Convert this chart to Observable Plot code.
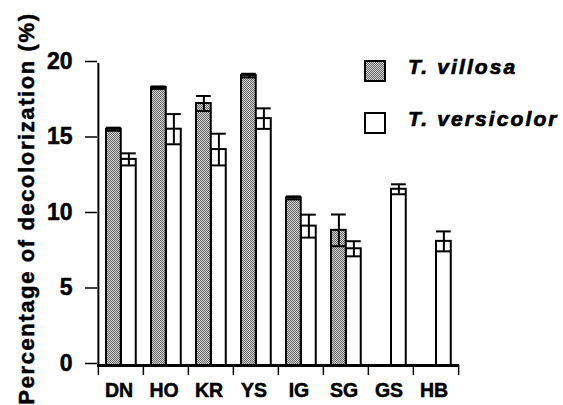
<!DOCTYPE html>
<html>
<head>
<meta charset="utf-8">
<script src="https://cdn.jsdelivr.net/npm/d3@7"></script>
<script src="https://cdn.jsdelivr.net/npm/@observablehq/plot@0.6"></script>
<style>
  html, body { margin: 0; padding: 0; background: #fff; }
  #wrap { position: relative; width: 563px; height: 405px; overflow: hidden; }
  #chart svg text { font-family: Arial, "Liberation Sans", sans-serif !important; font-weight: bold !important; fill: #000; stroke: #000; stroke-width: 0.5px; }
  #legend { position: absolute; left: 364px; top: 60px; font-family: Arial, "Liberation Sans", sans-serif;
            font-weight: bold; font-style: italic; font-size: 21px; letter-spacing: 2.1px; color: #000;
            -webkit-text-stroke: 0.7px #000; }
  .item { position: absolute; left: 0; white-space: nowrap; }
  .sw { position: absolute; left: 0; top: 0; width: 22px; height: 22px; box-sizing: border-box; border: 2px solid #000; background: #fff; }
  .sw.pat { background-color: #d4d4d4;
            background-image: repeating-conic-gradient(#666 0 25%, #d4d4d4 0 50%);
            background-size: 2px 2px; }
  .lab { position: absolute; left: 44px; top: -5px; line-height: 24px; }
</style>
</head>
<body>
<div id="wrap">
  <div id="chart"></div>
  <div id="legend"></div>
</div>
<script>
const categories = ["DN", "HO", "KR", "YS", "IG", "SG", "GS", "HB"];
const villosa    = [15.65, 18.4, 17.35, 19.2, 11.1, 8.95, null, null];
const villosaSD  = [0.1, 0.08, 0.5, 0.12, 0.1, 1.05, null, null];
const versicolor   = [13.65, 15.65, 14.3, 16.35, 9.23, 7.73, 11.67, 8.22];
const versicolorSD = [0.4, 1.0, 1.05, 0.68, 0.76, 0.5, 0.33, 0.66];
const seriesNames = ["T. villosa", "T. versicolor"];
const yTicks = [0, 5, 10, 15, 20];
const yLabel = "Percentage of decolorization (%)";

const W = 563, H = 405, mL = 97, mR = 104, mT = 63, mB = 40;
const step = (W - mL - mR) / categories.length;

const rowsV = categories.map((c, i) => ({cat: c, v: villosa[i], sd: villosaSD[i]})).filter(d => d.v != null);
const rowsC = categories.map((c, i) => ({cat: c, v: versicolor[i], sd: versicolorSD[i]})).filter(d => d.v != null);

// bar placement within each category band (px insets)
const vL = 8, vR = step - 23, cL = 23, cR = step - 38;
const vC = (vL + (step - vR)) / 2 - step / 2;
const cC = (cL + (step - cR)) / 2 - step / 2;

const chart = Plot.plot({
  width: W, height: H,
  marginLeft: mL, marginRight: mR, marginTop: mT, marginBottom: mB,
  style: {fontFamily: "Arial, Liberation Sans, sans-serif", background: "#fff", color: "#000", overflow: "visible"},
  x: {type: "band", domain: categories, padding: 0, axis: null},
  y: {domain: [0, 20], axis: null},
  marks: [
    Plot.barY(rowsV, {x: "cat", y: "v", fill: "url(#pat)", stroke: "#000", strokeWidth: 2, insetLeft: vL, insetRight: vR}),
    Plot.barY(rowsC, {x: "cat", y: "v", fill: "#fff", stroke: "#000", strokeWidth: 2, insetLeft: cL, insetRight: cR}),
    Plot.ruleX(rowsV, {x: "cat", y1: d => d.v - d.sd, y2: d => d.v + d.sd, dx: vC, strokeWidth: 2}),
    Plot.tickY(rowsV, {x: "cat", y: d => d.v + d.sd, insetLeft: vL, insetRight: vR, strokeWidth: 2}),
    Plot.tickY(rowsV, {x: "cat", y: d => d.v - d.sd, insetLeft: vL, insetRight: vR, strokeWidth: 2}),
    Plot.ruleX(rowsC, {x: "cat", y1: d => d.v - d.sd, y2: d => d.v + d.sd, dx: cC, strokeWidth: 2}),
    Plot.tickY(rowsC, {x: "cat", y: d => d.v + d.sd, insetLeft: cL, insetRight: cR, strokeWidth: 2}),
    Plot.tickY(rowsC, {x: "cat", y: d => d.v - d.sd, insetLeft: cL, insetRight: cR, strokeWidth: 2}),
    // y axis
    Plot.ruleX([categories[0]], {x: d => d, dx: -step / 2, strokeWidth: 2}),
    Plot.axisY({ticks: yTicks, tickSize: 12, tickPadding: 13, fontSize: 23, fontWeight: "bold", strokeWidth: 1.5, label: null, dy: -2}),
    Plot.text([yLabel], {frameAnchor: "left", rotate: -90, dx: -71, dy: -6, fontSize: 22, fontWeight: "bold", textAnchor: "middle", lineAnchor: "middle"}),
    // x axis
    Plot.ruleY([0], {strokeWidth: 3}),
    Plot.axisX({ticks: categories, tickSize: 10, text: null, dx: -step / 2, strokeWidth: 1.5, label: null}),
    Plot.axisX({ticks: [categories[categories.length - 1]], tickSize: 10, text: null, dx: step / 2, strokeWidth: 1.5, label: null}),
    Plot.axisX({ticks: categories, tickSize: 0, tickPadding: 18, fontSize: 19, fontWeight: "bold", label: null, dx: -2})
  ]
});

// pattern fill for T. villosa
const defs = d3.select(chart).insert("defs", ":first-child");
const pat = defs.append("pattern").attr("id", "pat").attr("patternUnits", "userSpaceOnUse")
  .attr("width", 2).attr("height", 2);
pat.append("rect").attr("width", 2).attr("height", 2).attr("fill", "#d4d4d4");
pat.append("rect").attr("width", 1).attr("height", 1).attr("fill", "#666");
pat.append("rect").attr("x", 1).attr("y", 1).attr("width", 1).attr("height", 1).attr("fill", "#666");

document.getElementById("chart").appendChild(chart);

// explicit sizes for axis texts
d3.select(chart).selectAll("g[aria-label='y-axis tick label']").style("font-size", "23px");
d3.select(chart).selectAll("g[aria-label='x-axis tick label']").style("font-size", "19.5px");
d3.select(chart).selectAll("text").filter(function() { return this.textContent === yLabel; })
  .style("letter-spacing", "1.6px").style("font-size", "22px");

// legend
const legend = d3.select("#legend");
const tops = [0, 51.7];
seriesNames.forEach((name, i) => {
  const it = legend.append("div").attr("class", "item").style("top", tops[i] + "px");
  it.append("div").attr("class", i === 0 ? "sw pat" : "sw");
  it.append("div").attr("class", "lab").text(name);
});
</script>
</body>
</html>
